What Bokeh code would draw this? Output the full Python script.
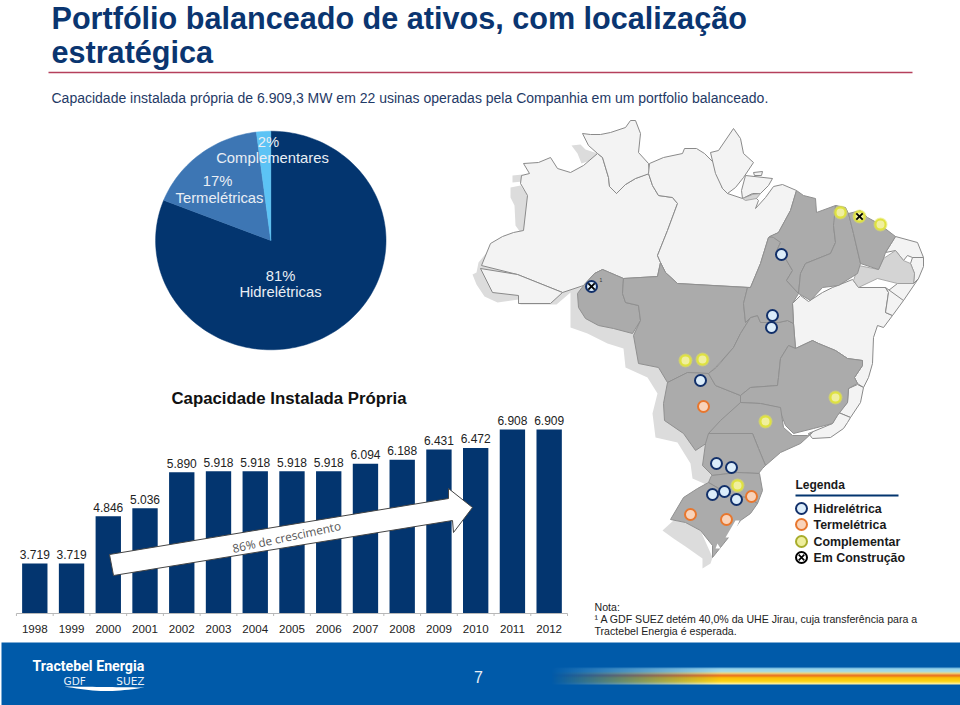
import math
import numpy as np
from bokeh.embed import file_html
from bokeh.resources import INLINE
from bokeh.plotting import figure
from bokeh.models import Range1d
from bokeh.core.properties import value

# ---- data ----
years = list(range(1998, 2013))
capacity = [3719, 3719, 4846, 5036, 5890, 5918, 5918, 5918, 5918, 6094, 6188, 6431, 6472, 6908, 6909]
capacity_labels = ["3.719", "3.719", "4.846", "5.036", "5.890", "5.918", "5.918", "5.918", "5.918",
                   "6.094", "6.188", "6.431", "6.472", "6.908", "6.909"]
pie_shares = [81, 17, 2]
pie_colors = ["#03356f", "#3d76b4", "#5cc3f5"]

hydro_sites = [(781, 254), (772, 315), (771, 327), (700, 380), (716, 463), (731, 467), (712, 494), (724, 491), (736, 499), (591, 286)]
thermal_sites = [(703, 406), (751, 496), (690, 514), (726, 519)]
compl_sites = [(840, 212), (859, 216), (880, 224), (685, 360), (702, 359), (835, 397), (765, 421), (737, 485)]
building_sites = [(591, 286), (859, 216)]

legend_items = ["Hidrelétrica", "Termelétrica", "Complementar", "Em Construção"]

# map outlines (page pixels)
neighbours = [
    [(571,145),(580,144),(585,149),(597,153),(590,160),(581,163),(577,153)],
    [(512,175),(522,174),(522,181),(512,182)],
    [(510,187),(520,185),(527,195),(527,228),(520,232),(515,225),(514,205),(510,197)],
    [(488,250),(478,262),(476,272),(472,274),(476,284),(484,296),(497,302),(518,299),(520,304),(556,304),(570,292),(570,327),(587,333),(607,343),(623,348),(625,367),(647,377),(657,393),(652,413),(655,437),(677,442),(690,463),(692,478),(708,485),(720,430),(690,360),(640,300),(590,290),(500,262)],
    [(673,520),(662,530),(673,538),(685,546),(702,558),(702,568),(710,563),(712,557),(700,530),(685,522)],
]
pale_states = [
    [(481,265),(490,243),(502,236),(513,232),(523,230),(527,195),(520,183),(521,175),(529,173),(523,163),(538,162),(550,157),(557,168),(570,172),(583,165),(597,153),(602,157),(608,177),(609,186),(616,193),(625,184),(635,178),(648,173),(652,185),(658,195),(672,197),(677,203),(667,230),(657,255),(660,262),(657,276),(623,278),(602,269),(594,273),(583,285),(562,292),(517,274)],
    [(582,133),(590,134),(600,134),(610,132),(625,127),(630,120),(635,120),(640,133),(638,152),(648,163),(649,173),(635,178),(625,184),(616,193),(609,186),(608,177),(602,157),(597,153),(588,145)],
    [(649,163),(663,157),(682,153),(684,148),(696,148),(704,153),(716,165),(722,188),(727,193),(742,198),(752,194),(758,200),(755,208),(765,197),(773,186),(782,184),(796,190),(790,210),(778,232),(768,237),(760,263),(750,287),(677,283),(665,272),(660,262),(657,255),(667,230),(677,203),(672,197),(658,195),(652,185),(648,173)],
    [(710,152),(718,150),(733,128),(740,138),(743,153),(753,162),(743,177),(735,187),(727,193),(722,188),(715,173)],
    [(745,175),(772,178),(768,185),(760,193),(752,193),(742,198),(741,190)],
    [(753,172),(762,171),(761,175),(754,175)],
    [(480,268),(517,274),(562,292),(550,303),(518,303),(518,295),(492,292)],
    [(895,236),(917,242),(923,257),(912,257),(907,255),(903,260),(895,250),(885,252)],
    [(912,257),(923,257),(923,266),(918,278),(913,283),(914,273),(910,263)],
    [(913,283),(918,278),(903,300),(900,300),(888,290),(897,283)],
    [(792,303),(800,295),(808,301),(822,292),(832,287),(852,279),(858,287),(885,287),(888,292),(885,312),(892,315),(883,327),(877,325),(873,337),(872,363),(868,377),(863,387),(857,383),(854,377),(862,365),(862,360),(847,358),(835,350),(818,343),(812,340),(795,348),(793,323)],
    [(885,287),(903,300),(892,315),(885,312),(888,292)],
    [(848,388),(857,384),(863,387),(860,402),(850,417),(838,412),(847,402)],
    [(838,412),(850,417),(847,422),(843,428),(830,437),(812,438),(808,433),(832,423)],
]
mid_states = [
    [(853,280),(858,265),(878,269),(883,258),(895,250),(903,260),(910,263),(914,273),(913,283),(897,283),(877,278),(858,287)],
    [(742,198),(752,194),(760,193),(756,198),(745,200)],
]
dark_states = [
    [(577,293),(583,285),(594,273),(602,269),(623,278),(622,293),(625,302),(638,305),(640,320),(632,333),(613,328),(598,325),(585,318),(578,307)],
    [(623,278),(657,276),(660,262),(665,272),(677,283),(747,287),(743,303),(745,322),(750,317),(740,333),(733,347),(715,367),(708,373),(687,372),(667,382),(658,367),(638,363),(633,335),(640,320),(638,305),(625,302),(622,293)],
    [(667,382),(687,372),(708,373),(715,385),(740,395),(740,402),(720,427),(707,442),(695,450),(683,433),(664,420),(663,403)],
    [(716,367),(733,347),(740,333),(750,317),(757,315),(760,322),(778,322),(787,320),(793,323),(795,348),(788,345),(780,358),(778,377),(777,385),(750,387),(740,395),(715,385),(708,373)],
    [(768,237),(775,235),(780,242),(775,253),(785,258),(792,270),(786,280),(798,293),(792,303),(793,323),(787,320),(778,322),(760,322),(757,315),(750,317),(745,322),(743,303),(747,287),(750,287),(760,263)],
    [(796,190),(803,195),(815,198),(816,212),(835,205),(840,207),(833,225),(835,242),(830,253),(805,263),(800,273),(798,293),(786,280),(792,270),(785,258),(775,253),(780,242),(773,237),(769,236),(778,232),(790,210)],
    [(835,205),(845,207),(848,213),(853,233),(860,263),(857,273),(838,285),(822,287),(810,300),(798,293),(800,273),(805,263),(830,253),(835,242),(833,225)],
    [(848,213),(860,210),(867,217),(878,223),(895,236),(885,252),(883,258),(878,269),(860,263),(853,233)],
    [(795,348),(812,340),(818,343),(835,350),(847,358),(862,360),(862,365),(854,377),(857,383),(848,388),(847,402),(837,415),(832,423),(813,428),(793,433),(785,425),(778,407),(760,403),(740,402),(740,395),(750,387),(777,385),(778,377),(780,358),(788,345)],
    [(740,402),(760,403),(780,407),(783,427),(792,435),(807,435),(812,432),(800,443),(780,452),(765,465),(758,448),(752,433),(720,433),(708,433),(720,420)],
    [(708,433),(752,433),(758,448),(765,465),(762,468),(758,473),(737,472),(712,475),(702,465),(705,443)],
    [(711,475),(737,472),(759,473),(762,490),(757,503),(747,497),(730,495),(708,482)],
    [(708,482),(730,495),(747,497),(757,503),(750,513),(740,520),(728,537),(720,547),(712,557),(712,545),(700,530),(685,522),(670,519),(683,497),(697,488)],
]
lagoons = [
    [(735,520),(739,520),(732,537),(725,537)],
    [(717,543),(720,548),(715,548)],
]

FONT = "Liberation Sans"
NAVY = "#03356f"

# ---- figure: page in pixels, plus value scales for the bars ----
PX_PER_MW = 0.042
BASE_MW = 2529
BASE_PX = 613
YEAR_PX0, YEAR_STEP = 34.3, 36.74

p = figure(width=960, height=705, x_range=Range1d(0, 960), y_range=Range1d(705, 0),
           output_backend="svg", toolbar_location=None, min_border=0, outline_line_color=None,
           x_axis_location=None, y_axis_location=None, background_fill_color="white")
p.grid.visible = False
p.styles = {"position": "absolute", "left": "0px", "top": "0px"}
p.extra_x_ranges["yr"] = Range1d(1998 - YEAR_PX0 / YEAR_STEP, 1998 + (960 - YEAR_PX0) / YEAR_STEP)
p.extra_y_ranges["mw"] = Range1d(BASE_MW - (705 - BASE_PX) / PX_PER_MW, BASE_MW + BASE_PX / PX_PER_MW)


def txt(x, y, s, size=12, color="#222222", bold=False, align="left", font=FONT, angle=0.0):
    p.text([x], [y], text=[s], text_font=value(font), text_font_size=f"{size}px", text_color=color,
           text_align=align, text_baseline="middle", angle=angle,
           text_font_style="bold" if bold else "normal")


def polys(lst, fill, line, width=1.0):
    p.patches([[q[0] for q in poly] for poly in lst], [[q[1] for q in poly] for poly in lst],
              fill_color=fill, line_color=line, line_width=width, line_join="round")


# ---- header ----
txt(51, 17.5, "Portfólio balanceado de ativos, com localização", 30.6, "#0a3570", True)
txt(51, 51.5, "estratégica", 30.6, "#0a3570", True)
p.line([48, 912], [72, 72], line_color="#b5405c", line_width=1.5)
txt(51, 97, "Capacidade instalada própria de 6.909,3 MW em 22 usinas operadas pela Companhia em um portfolio balanceado.",
    14, "#1f3a66")

# ---- pie ----
cx, cy, rx, ry = 270.3, 240, 115.2, 109.3
acc = 0.0
for share, col in zip(pie_shares, pie_colors):
    a0, a1 = acc / 100 * 2 * math.pi, (acc + share) / 100 * 2 * math.pi
    n = max(3, int(share * 2))
    xs = [cx] + [cx + rx * math.sin(a0 + (a1 - a0) * i / n) for i in range(n + 1)]
    ys = [cy] + [cy - ry * math.cos(a0 + (a1 - a0) * i / n) for i in range(n + 1)]
    p.patch(xs, ys, fill_color=col, line_color=col, line_width=0.5)
    acc += share
txt(268, 141, "2%", 14.8, "#e9eef4", align="center")
txt(272, 157, "Complementares", 14.8, "#e9eef4", align="center")
txt(217, 180, "17%", 14.8, "#e9eef4", align="center")
txt(219, 197, "Termelétricas", 14.8, "#e9eef4", align="center")
txt(280, 275, "81%", 14.8, "#e9eef4", align="center")
txt(280, 291, "Hidrelétricas", 14.8, "#e9eef4", align="center")

# ---- bars ----
txt(288.5, 398, "Capacidade Instalada Própria", 16.8, "#111111", True, "center")
p.vbar(x=years, top=capacity, bottom=BASE_MW, width=0.69, fill_color=NAVY, line_color=None,
       x_range_name="yr", y_range_name="mw")
p.text(x=years, y=capacity, text=capacity_labels, x_range_name="yr", y_range_name="mw", y_offset=-9,
       text_font=value(FONT), text_font_size="12px", text_color="#222222", text_align="center",
       text_baseline="middle")
p.text(x=years, y=[BASE_MW - 15 / PX_PER_MW] * len(years), text=[str(y) for y in years], x_range_name="yr",
       y_range_name="mw", text_font=value(FONT), text_font_size="11.6px", text_color="#222222",
       text_align="center", text_baseline="middle")
edges = [y - 0.5 for y in years] + [years[-1] + 0.5]
p.segment(x0=[edges[0]], x1=[edges[-1]], y0=[BASE_MW], y1=[BASE_MW], x_range_name="yr", y_range_name="mw",
          line_color="#b8b8b8", line_width=1)
p.segment(x0=edges, x1=edges, y0=[BASE_MW] * len(edges), y1=[BASE_MW - 2.5 / PX_PER_MW] * len(edges),
          x_range_name="yr", y_range_name="mw", line_color="#b8b8b8", line_width=1)

# growth arrow
p.patch([109, 448, 448, 472, 453, 452, 113], [554, 498, 488, 507, 532, 520, 575],
        fill_color="white", line_color="#444444", line_width=1)
txt(286, 536, "86% de crescimento", 11.8, "#555555", align="center", font="Open Sans", angle=0.21)

# ---- map ----
polys(neighbours, "#dcdcdc", None)
polys(pale_states, "#f3f3f3", "#8a8a8a", 1.0)
polys(mid_states, "#d4d4d4", "#9a9a9a", 0.8)
polys(dark_states, "#ababab", "#909090", 1.0)
polys(lagoons, "#ffffff", None)

p.scatter([q[0] for q in compl_sites], [q[1] for q in compl_sites], size=14, marker="circle",
          fill_color="#e3e65a", fill_alpha=0.55, line_color=None)
p.scatter([q[0] for q in compl_sites], [q[1] for q in compl_sites], size=10, marker="circle",
          fill_color="#f0ef9e", line_color="#dfe23f", line_width=2)
p.scatter([q[0] for q in thermal_sites], [q[1] for q in thermal_sites], size=11, marker="circle",
          fill_color="#f9d3ba", line_color="#e8772e", line_width=2)
p.scatter([q[0] for q in hydro_sites], [q[1] for q in hydro_sites], size=11, marker="circle",
          fill_color="#dcedfa", line_color="#12306a", line_width=2)
p.scatter([q[0] for q in building_sites], [q[1] for q in building_sites], size=9, marker="x",
          line_color="#000000", line_width=1.8)
txt(599, 279, "1", 5, "#333333")

# ---- legend ----
txt(795, 484, "Legenda", 12, "#1a1a1a", True)
p.line([795, 898], [495, 495], line_color=NAVY, line_width=2)
leg_y = [508, 524, 541, 557]
leg_fill = ["#dcedfa", "#f9d3ba", "#eeee9c", "#ffffff"]
leg_line = ["#12306a", "#e8772e", "#a8ad2c", "#000000"]
p.scatter([801] * 4, leg_y, size=11, marker="circle", fill_color=leg_fill, line_color=leg_line, line_width=2)
p.scatter([801], [leg_y[3]], size=8, marker="x", line_color="#000000", line_width=1.6)
for y_, s in zip(leg_y, legend_items):
    txt(813, y_, s, 12.4, "#1a1a1a", True)

# ---- note ----
txt(594, 606, "Nota:", 10.6, "#222222")
txt(594, 618, "¹ A GDF SUEZ detém 40,0% da UHE Jirau, cuja transferência para a", 10.6, "#222222")
txt(594, 630, "Tractebel Energia é esperada.", 10.6, "#222222")

# ---- footer ----
p.quad(left=[1], right=[960], top=[642], bottom=[705], fill_color="#005aa9", line_color=None)
txt(478, 676, "7", 16, "#e8eef5", align="center")

band_stops = [(667, (255, 250, 200)), (670, (255, 214, 20)), (674, (250, 190, 10)), (676, (228, 95, 30)),
              (678, (250, 215, 110)), (680, (165, 220, 235)), (683, (150, 210, 232)), (684, (60, 140, 200))]
rows = np.arange(667, 684) + 0.5
W = 410
chan = [np.interp(rows, [s[0] for s in band_stops], [s[1][k] for s in band_stops]) for k in range(3)]
fade = np.clip(np.arange(W) / 170.0, 0, 1)
rgba = np.zeros((len(rows), W), dtype=np.uint32)
view = rgba.view(dtype=np.uint8).reshape((len(rows), W, 4))
for r in range(len(rows)):
    view[r, :, 0] = int(chan[0][r])
    view[r, :, 1] = int(chan[1][r])
    view[r, :, 2] = int(chan[2][r])
    view[r, :, 3] = (255 * fade).astype(np.uint8)
p.image_rgba(image=[rgba], x=550, y=684, dw=W, dh=17, anchor="top_left", origin="top_left")

txt(32, 665, "Tractebel Energia", 14.2, "#ffffff", True, font="Roboto")
txt(63, 680, "GDF", 10.5, "#e8f0f8", font="DejaVu Sans")
txt(144, 680, "SUEZ", 10.5, "#e8f0f8", align="right", font="DejaVu Sans")
sw = [i / 20 for i in range(21)]
p.patch([64 + 80 * s for s in sw] + [144 - 80 * s for s in sw],
        [686 + 1 * s for s in sw] + [687 + 4 * math.sin(math.pi * s) - 1 * s for s in sw],
        fill_color="#ffffff", line_color=None)

open("out.html", "w").write(file_html(p, INLINE))
